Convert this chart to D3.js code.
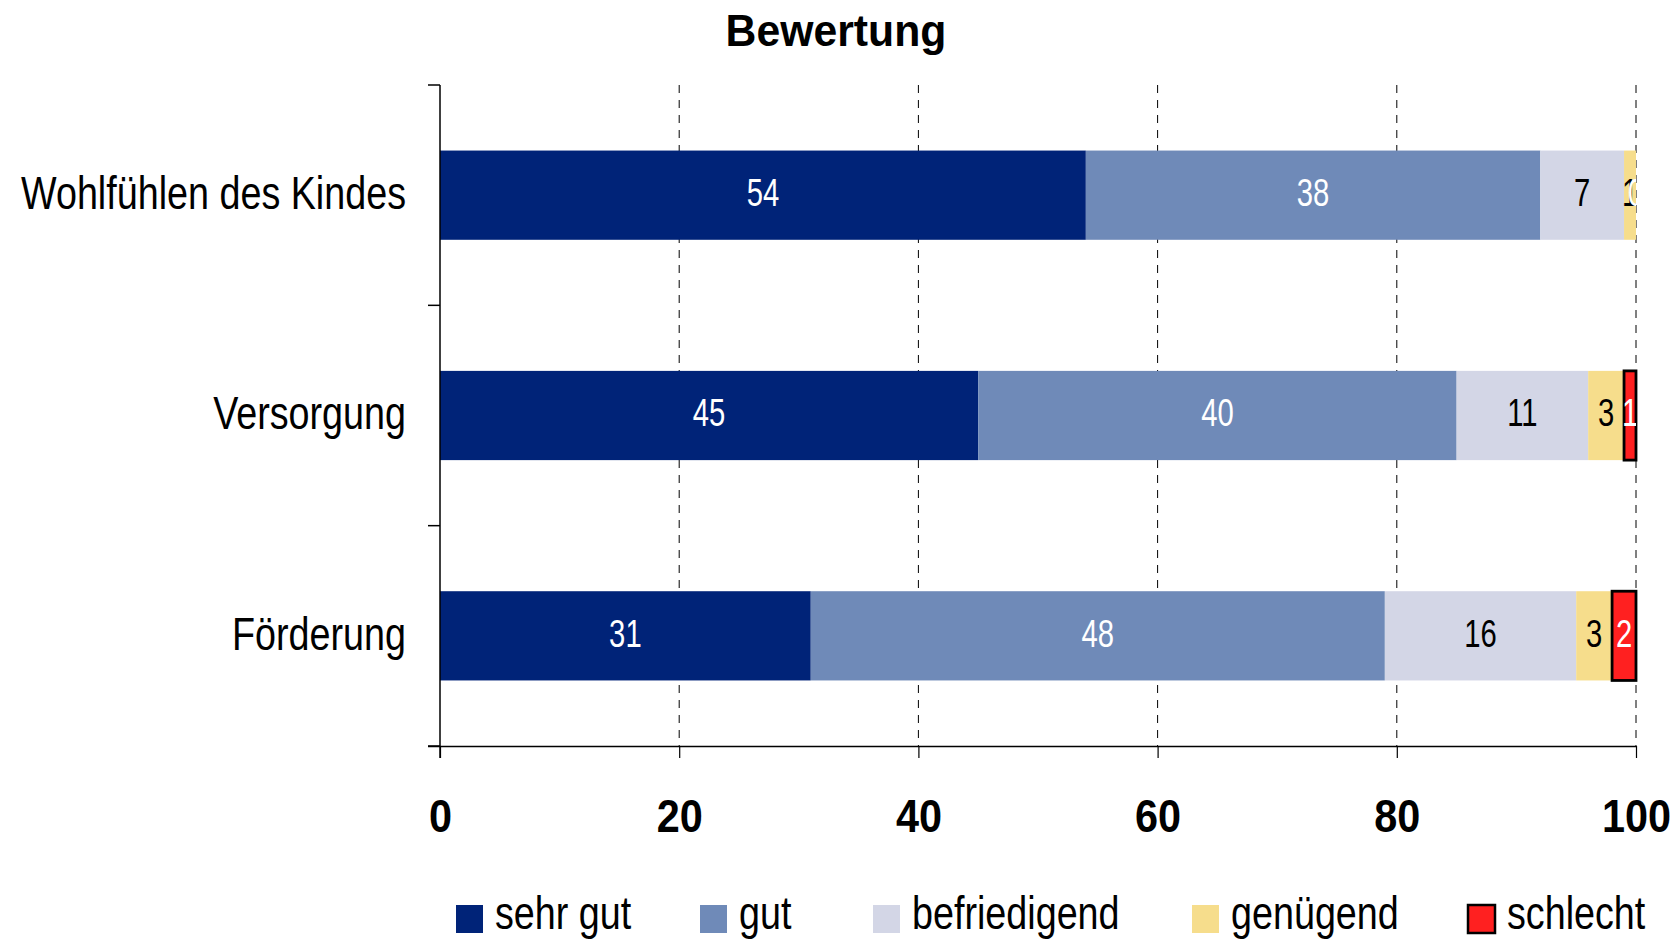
<!DOCTYPE html>
<html>
<head>
<meta charset="utf-8">
<script src="https://cdn.jsdelivr.net/npm/d3@7"></script>
<style>
  body { margin: 0; background: #fff; }
  svg { display: block; font-family: "Liberation Sans", Arial, sans-serif; }
</style>
</head>
<body>
<div id="chart"></div>
<script>
// Daten
var categories = ["Wohlfühlen des Kindes", "Versorgung", "Förderung"];
var seriesNames = ["sehr gut", "gut", "befriedigend", "genügend", "schlecht"];
var sehrGut = [54, 45, 31];
var gut = [38, 40, 48];
var befriedigend = [7, 11, 16];
var genuegend = [1, 3, 3];
var schlecht = [0, 1, 2];
var xTicks = [0, 20, 40, 60, 80, 100];

var colors = ["#002378", "#6f8ab8", "#d3d6e6", "#f6dd8c", "#ff2020"];
var labelColors = ["#fff", "#fff", "#000", "#000", "#fff"];

var W = 1680, H = 940;
var margin = { top: 85, right: 44, bottom: 194, left: 440 };
var w = W - margin.left - margin.right,
    h = H - margin.top - margin.bottom;

var series = [sehrGut, gut, befriedigend, genuegend, schlecht];
var rows = categories.map(function(c, i) {
  var acc = 0;
  return series.map(function(s, k) {
    var seg = { cat: c, k: k, x0: acc, x1: acc + s[i], v: s[i] };
    acc += s[i];
    return seg;
  });
});

// schmale Schrift: Liberation Sans horizontal gestaucht
function tr(x, y, s) {
  return "translate(" + x + "," + y + ") scale(" + s + ",1)";
}

var svg = d3.select("#chart").append("svg")
  .attr("width", W).attr("height", H);

svg.append("text")
  .attr("transform", tr(836, 46, 0.95))
  .attr("text-anchor", "middle")
  .style("font-weight", "bold")
  .style("font-size", "45px")
  .text("Bewertung");

var g = svg.append("g")
  .attr("transform", "translate(" + margin.left + "," + margin.top + ")");

var x = d3.scaleLinear().domain([0, 100]).range([0, w]);
var y = d3.scaleBand().domain(categories).range([0, h]).paddingInner(0.595).paddingOuter(0.2975);

// Gitternetz
g.selectAll(".grid").data(xTicks.slice(1)).enter().append("line")
  .attr("x1", function(d) { return x(d); }).attr("x2", function(d) { return x(d); })
  .attr("y1", 0).attr("y2", h)
  .attr("stroke", "#000").attr("stroke-width", 1)
  .attr("stroke-dasharray", "8,7");

g.append("clipPath").attr("id", "clip")
  .append("rect").attr("x", 0).attr("y", 0).attr("width", w).attr("height", h);

var bars = g.append("g");
rows.forEach(function(row) {
  var rg = bars.append("g");
  var yc = y(row[0].cat) + y.bandwidth() / 2;
  rg.selectAll("rect").data(row).enter().append("rect")
    .attr("x", function(d) { return x(d.x0); })
    .attr("y", y(row[0].cat))
    .attr("width", function(d) { return x(d.x1) - x(d.x0); })
    .attr("height", y.bandwidth())
    .attr("fill", function(d) { return colors[d.k]; })
    .attr("stroke", function(d) { return d.k === 4 && d.v > 0 ? "#000" : "none"; })
    .attr("stroke-width", 2.8);
  rg.append("g").attr("clip-path", "url(#clip)")
    .selectAll("text").data(row).enter().append("text")
    .attr("transform", function(d) { return tr(x((d.x0 + d.x1) / 2), yc, 0.75); })
    .attr("dy", "0.28em")
    .attr("text-anchor", "middle")
    .style("font-size", "39px")
    .attr("fill", function(d) { return labelColors[d.k]; })
    .text(function(d) { return d.v; });
});

// Achsen
var xAxis = g.append("g")
  .attr("transform", "translate(0," + h + ")")
  .call(d3.axisBottom(x).tickValues(xTicks).tickSize(12).tickSizeOuter(0));
xAxis.select(".domain").attr("d", "M-12,0.5H" + w).attr("stroke", "#000").attr("stroke-width", 1.5);
xAxis.selectAll(".tick line").attr("stroke", "#000").attr("stroke-width", 1.2);
xAxis.selectAll("text")
  .attr("y", null).attr("dy", null)
  .attr("transform", tr(0, 86, 0.9))
  .style("font-family", "Liberation Sans, Arial, sans-serif")
  .style("font-size", "46px")
  .style("font-weight", "bold")
  .attr("fill", "#000");

var yAxis = g.append("g");
var bounds = [0, h / 3, 2 * h / 3, h];
yAxis.append("line").attr("x1", 0).attr("x2", 0).attr("y1", 0).attr("y2", h + 12)
  .attr("stroke", "#000").attr("stroke-width", 1.5);
yAxis.selectAll(".yt").data(bounds).enter().append("line")
  .attr("x1", -12).attr("x2", 0)
  .attr("y1", function(d) { return d; }).attr("y2", function(d) { return d; })
  .attr("stroke", "#000").attr("stroke-width", 1.5);
yAxis.selectAll(".cl").data(categories).enter().append("text")
  .attr("transform", function(d) { return tr(-34, y(d) + y.bandwidth() / 2, 0.82); })
  .attr("dy", "0.3em")
  .attr("text-anchor", "end")
  .style("font-size", "46px")
  .text(function(d) { return d; });

// Legende
var legendX = [456, 700, 873, 1192, 1468];
var leg = svg.append("g");
var li = leg.selectAll("g").data(seriesNames).enter().append("g")
  .attr("transform", function(d, i) { return "translate(" + legendX[i] + ",0)"; });
li.append("rect")
  .attr("x", 0).attr("y", 905).attr("width", 27).attr("height", 28)
  .attr("fill", function(d, i) { return colors[i]; })
  .attr("stroke", function(d, i) { return i === 4 ? "#000" : "none"; })
  .attr("stroke-width", 2.5);
li.append("text")
  .attr("transform", tr(39, 929, 0.82))
  .style("font-size", "46px")
  .text(function(d) { return d; });
</script>
</body>
</html>
